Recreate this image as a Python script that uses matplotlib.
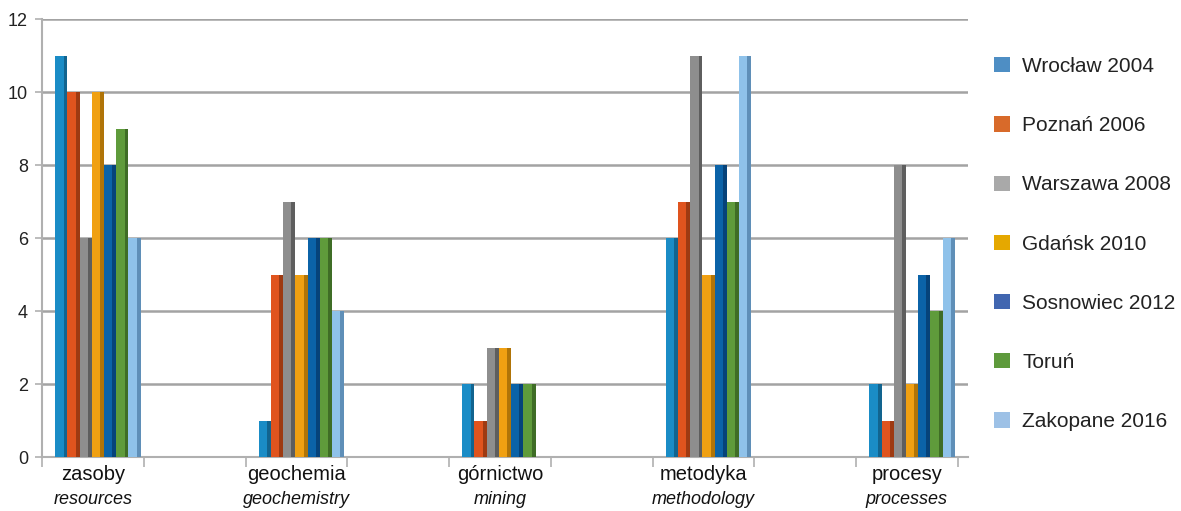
import matplotlib.pyplot as plt
from matplotlib.patches import Patch

plt.rcParams['font.family'] = ['Liberation Sans', 'DejaVu Sans']

categories = ['zasoby', 'geochemia', 'górnictwo', 'metodyka', 'procesy']
categories_en = ['resources', 'geochemistry', 'mining', 'methodology', 'processes']
series = ['Wrocław 2004', 'Poznań 2006', 'Warszawa 2008', 'Gdańsk 2010',
          'Sosnowiec 2012', 'Toruń', 'Zakopane 2016']

wroclaw = [11, 1, 2, 6, 2]
poznan = [10, 5, 1, 7, 1]
warszawa = [6, 7, 3, 11, 8]
gdansk = [10, 5, 3, 5, 2]
sosnowiec = [8, 6, 2, 8, 5]
torun = [9, 6, 2, 7, 4]
zakopane = [6, 4, 0, 11, 6]
values = [wroclaw, poznan, warszawa, gdansk, sosnowiec, torun, zakopane]

bar_colors = ['#1a8cc6', '#e0541e', '#8e8e8e', '#f0a012', '#0b63a8', '#5f9b3b', '#8fc2ea']
side_colors = ['#12648f', '#9e3a12', '#5e5e5e', '#b07408', '#06437a', '#3f6d26', '#5f8fb8']
legend_colors = ['#4e8ec4', '#d86a2a', '#a9a9a9', '#e5a800', '#4166b0', '#5e9a3c', '#9dc1e6']

fig = plt.figure(figsize=(11.81, 5.11), dpi=100)
ax = fig.add_axes([42 / 1181, 1 - 457 / 511, 926 / 1181, 438 / 511])

# categories sit in every other slot (empty slot between them)
xpos = [2 * i for i in range(len(categories))]
w = 0.12
shift = 0.05  # bars drawn a bit to the right, like the 3D depth in the original
for j, vals in enumerate(values):
    off = (j - 3) * w + shift
    xs = [x + off for x in xpos]
    ax.bar(xs, vals, width=w, color=bar_colors[j], zorder=3, linewidth=0)
    # darker right face to hint at the 3D look
    ax.bar([x + w * 0.34 for x in xs], vals, width=w * 0.32,
           color=side_colors[j], zorder=4, linewidth=0)

ax.set_xlim(-0.5, 8.6)
ax.set_ylim(0, 12)
ax.set_yticks(range(0, 13, 2))
ax.yaxis.grid(True, color='#a3a3a3', linewidth=1.8, zorder=0)
ax.tick_params(axis='y', labelsize=13, colors='#b0b0b0', labelcolor='#222222',
               length=5, width=1.2, pad=5)

ax.set_xticks([x - 0.5 for x in range(10)])
ax.set_xticklabels([])
ax.tick_params(axis='x', length=7, width=1.2, colors='#b0b0b0')

for s in ['top', 'right']:
    ax.spines[s].set_visible(False)
for s in ['left', 'bottom']:
    ax.spines[s].set_color('#b0b0b0')
    ax.spines[s].set_linewidth(1.5)

tr = ax.get_xaxis_transform()
for x, pl, en in zip(xpos, categories, categories_en):
    ax.text(x, -0.04, pl, transform=tr, ha='center', va='center',
            fontsize=14.5, color='#111111')
    ax.text(x, -0.098, en, transform=tr, ha='center', va='center',
            fontsize=13, style='italic', color='#111111')

handles = [Patch(facecolor=c, edgecolor='none') for c in legend_colors]
fig.legend(handles, series, loc='upper left', bbox_to_anchor=(994 / 1181, 1 - 57 / 511),
           frameon=False, fontsize=15, handlelength=0.75, handleheight=0.75,
           handletextpad=0.6, labelspacing=1.93, borderpad=0, borderaxespad=0,
           labelcolor='#222222')

fig.savefig('out.png', dpi=100)
